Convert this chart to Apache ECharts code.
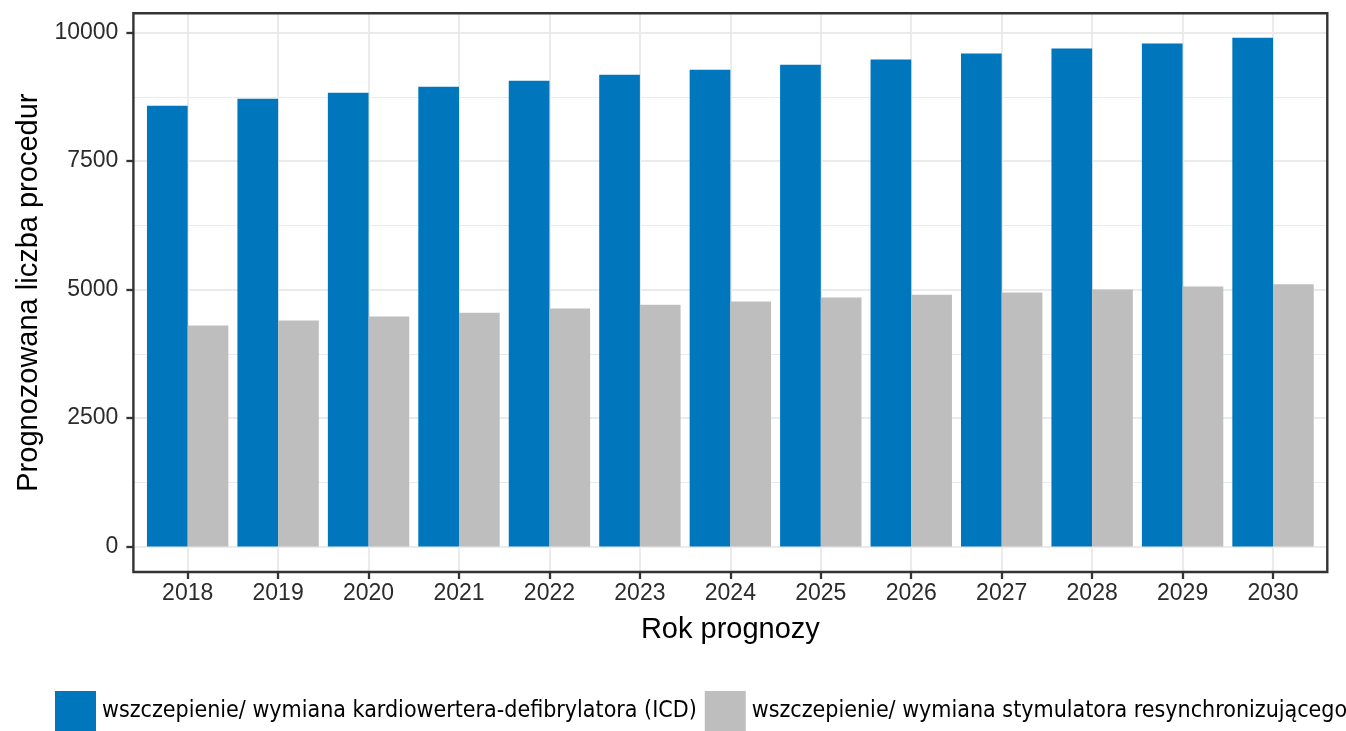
<!DOCTYPE html>
<html><head><meta charset="utf-8">
<script src="https://cdn.jsdelivr.net/npm/echarts@6/dist/echarts.min.js"></script>
<style>html,body{margin:0;padding:0;background:#fff}#c{width:1346px;height:731px}</style>
</head><body><div id="c"></div>
<script>
const years = ['2018','2019','2020','2021','2022','2023','2024','2025','2026','2027','2028','2029','2030'];
const icdValues = [8575, 8710, 8830, 8945, 9060, 9180, 9275, 9375, 9475, 9590, 9690, 9785, 9900];
const crtValues = [4300, 4395, 4475, 4550, 4630, 4705, 4765, 4845, 4900, 4940, 5000, 5060, 5100];
const seriesNames = ['wszczepienie/ wymiana kardiowertera-defibrylatora (ICD)', 'wszczepienie/ wymiana stymulatora resynchronizującego'];
const yTickMin = 0, yTickMax = 10000, yTickStep = 2500;

const FONT = '"Liberation Sans", Arial, Helvetica, sans-serif';
// choose legend font: a narrow face if one is installed, sized to match the reference text width
function legendFont() {
  const cv = document.createElement('canvas').getContext('2d');
  const cands = ['"Liberation Sans Narrow"', '"Arial Narrow"', '"DejaVu Sans Condensed"', '"Roboto Condensed"', '"Open Sans Condensed"'];
  cv.font = '100px monospace';
  const b = cv.measureText(seriesNames[0]).width;
  let fam = '"Liberation Sans"';
  for (const c of cands) {
    cv.font = '100px ' + c + ', monospace';
    if (Math.abs(cv.measureText(seriesNames[0]).width - b) > 1) { fam = c; break; }
  }
  cv.font = '100px ' + fam + ', Arial, sans-serif';
  const w = cv.measureText(seriesNames[0]).width;
  const size = 595 * 100 / w;
  return { fam: fam + ', Arial, sans-serif', size: Math.min(28, size) };
}
const lf = legendFont();

const chart = echarts.init(document.getElementById('c'), null, { renderer: 'canvas' });
const panelL = 133.4, panelR = 1327.3, panelT = 13.3, panelB = 572;
const unit = (panelR - panelL) / 13.2;
const y0px = 546.5, y10kpx = 32.5;
const pxPer = (y0px - y10kpx) / 10000;
const TICKCOL = '#333333', LABCOL = '#2b2b2b';

chart.setOption({
  backgroundColor: '#ffffff',
  animation: false,
  grid: [
    { left: panelL + 0.1 * unit, right: 1346 - (panelR - 0.1 * unit), top: panelT, bottom: 731 - panelB },
    { left: panelL, right: 1346 - panelR, top: y10kpx, bottom: 731 - y0px }
  ],
  xAxis: [
    {
      type: 'category', gridIndex: 0, data: years, position: 'bottom',
      axisLine: { show: false, onZero: false },
      axisTick: { show: true, alignWithLabel: true, length: 7, lineStyle: { color: TICKCOL, width: 2.3 } },
      axisLabel: { color: LABCOL, fontSize: 23, fontFamily: FONT, margin: 10 },
      splitLine: { show: true, alignWithLabel: true, lineStyle: { color: '#ebebeb', width: 2 } },
      name: 'Rok prognozy', nameLocation: 'middle', nameGap: 43,
      nameTextStyle: { color: '#000', fontSize: 29, fontFamily: FONT }
    },
    { type: 'value', gridIndex: 1, min: 0, max: 1, show: false }
  ],
  yAxis: [
    {
      type: 'value', gridIndex: 0,
      min: -(panelB - y0px) / pxPer, max: (y0px - panelT) / pxPer,
      axisLine: { show: false, onZero: false }, axisTick: { show: false }, axisLabel: { show: false }, splitLine: { show: false },
      name: 'Prognozowana liczba procedur', nameLocation: 'middle', nameGap: 99,
      nameTextStyle: { color: '#000', fontSize: 29, fontFamily: FONT }
    },
    {
      type: 'value', gridIndex: 1, min: yTickMin, max: yTickMax, interval: yTickStep,
      axisLine: { show: false, onZero: false },
      axisTick: { show: true, length: 7, lineStyle: { color: TICKCOL, width: 2.3 } },
      axisLabel: { color: LABCOL, fontSize: 23, fontFamily: FONT, margin: 15, formatter: v => String(v) },
      splitLine: { show: true, lineStyle: { color: '#ebebeb', width: 2 } },
      minorTick: { show: false, splitNumber: 2 },
      minorSplitLine: { show: true, lineStyle: { color: '#ebebeb', width: 1 } }
    }
  ],
  legend: {
    show: true, left: 55, top: 691, width: 3000, orient: 'horizontal', padding: 0,
    itemWidth: 41, itemHeight: 41, itemGap: 8, selectedMode: false,
    icon: 'rect',
    textStyle: { color: '#000', fontSize: lf.size, fontFamily: lf.fam, padding: [8, 0, 0, 1] },
    data: seriesNames
  },
  series: [
    { name: seriesNames[0], type: 'bar', xAxisIndex: 0, yAxisIndex: 0, data: icdValues,
      itemStyle: { color: '#0077bd' }, barGap: '0%', barCategoryGap: '10%' },
    { name: seriesNames[1], type: 'bar', xAxisIndex: 0, yAxisIndex: 0, data: crtValues,
      itemStyle: { color: '#bebebe' }, barGap: '0%', barCategoryGap: '10%' }
  ],
  graphic: [
    { type: 'rect', z: 100, silent: true,
      shape: { x: panelL, y: panelT, width: panelR - panelL, height: panelB - panelT },
      style: { fill: null, stroke: '#333333', lineWidth: 2.4 } }
  ]
});
</script></body></html>
